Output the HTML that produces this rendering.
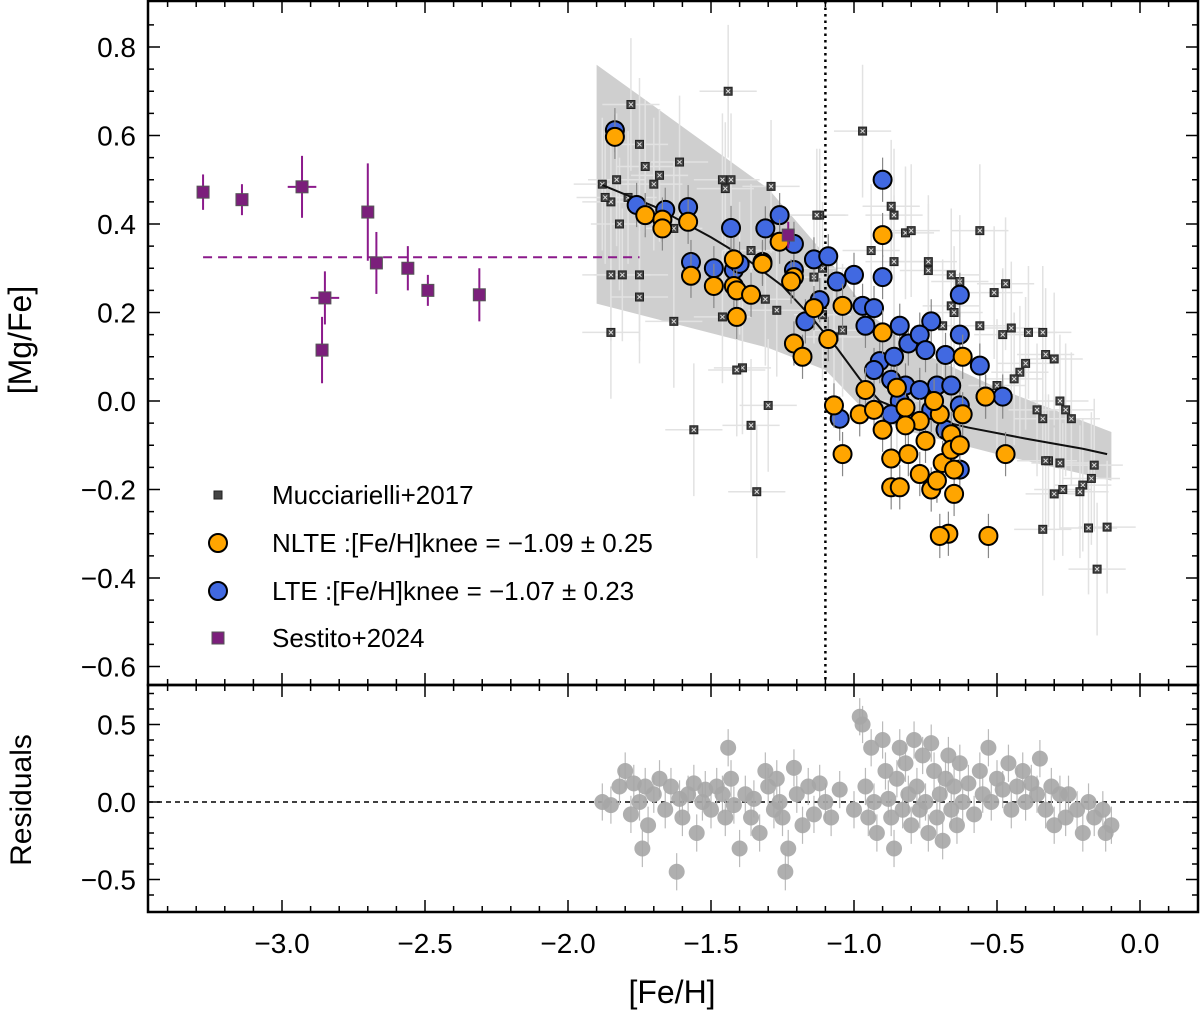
<!DOCTYPE html>
<html><head><meta charset="utf-8"><style>
body{margin:0;background:#fff;}
svg text{font-family:"Liberation Sans",sans-serif;fill:#000;}
</style></head><body>
<svg id="c" width="1200" height="1013" xmlns="http://www.w3.org/2000/svg"></svg>
<script>
const mucX=[-1.78,-1.75,-1.44,-0.97,-1.83,-1.88,-1.85,-1.79,-1.73,-1.61,-1.68,-1.70,-1.46,-1.43,-1.45,-1.29,-1.12,-1.13,-1.63,-1.82,-1.85,-1.81,-1.75,-1.63,-1.85,-1.46,-1.40,-1.36,-1.27,-1.31,-1.39,-1.30,-1.56,-1.36,-1.41,-1.14,-1.11,-1.11,-1.04,-0.94,-0.87,-0.86,-0.82,-0.80,-0.56,-0.86,-0.74,-0.74,-0.66,-0.63,-0.66,-0.65,-0.69,-0.51,-0.47,-0.48,-0.45,-0.34,-0.39,-0.56,-0.40,-0.42,-0.44,-0.50,-0.33,-0.30,-0.28,-0.26,-0.24,-0.34,-0.36,-0.32,-0.33,-0.28,-0.16,-0.17,-0.30,-0.27,-0.20,-0.21,-0.34,-0.18,-0.115,-0.15,-0.85,-1.07,-1.34,-1.75,-1.87];
const mucY=[0.67,0.58,0.70,0.61,0.50,0.49,0.45,0.46,0.53,0.54,0.51,0.49,0.50,0.50,0.48,0.485,0.42,0.42,0.39,0.40,0.285,0.285,0.285,0.18,0.155,0.19,0.30,0.34,0.205,0.23,0.075,-0.01,-0.065,-0.055,0.07,0.28,0.30,0.195,0.16,0.34,0.44,0.42,0.38,0.385,0.385,0.315,0.315,0.295,0.285,0.27,0.215,0.20,0.17,0.245,0.265,0.15,0.165,0.155,0.155,0.17,0.085,0.065,0.05,0.035,0.105,0.095,0.0,-0.02,-0.04,-0.04,-0.02,-0.135,-0.135,-0.14,-0.145,-0.175,-0.21,-0.20,-0.19,-0.205,-0.29,-0.287,-0.285,-0.38,0.0,0.145,-0.205,0.235,0.46];
const lteX=[-1.836,-1.76,-1.66,-1.58,-1.43,-1.31,-1.57,-1.49,-1.42,-1.40,-1.32,-1.21,-1.21,-1.14,-1.09,-1.06,-1.0,-0.90,-0.90,-0.97,-0.93,-0.84,-0.91,-0.86,-0.81,-0.63,-0.63,-0.56,-0.54,-0.48,-0.63,-0.73,-0.77,-0.75,-0.68,-0.71,-0.82,-0.87,-0.93,-0.84,-0.77,-0.66,-0.63,-0.87,-0.73,-0.68,-1.05,-1.17,-1.12,-0.96,-1.26];
const lteY=[0.612,0.443,0.432,0.438,0.391,0.39,0.314,0.30,0.296,0.31,0.314,0.355,0.296,0.32,0.327,0.27,0.285,0.50,0.28,0.215,0.21,0.17,0.09,0.10,0.13,0.24,0.15,0.08,0.01,0.01,-0.155,0.18,0.15,0.115,0.104,0.035,0.035,0.048,0.07,0.0,0.025,0.035,-0.01,-0.03,-0.02,-0.065,-0.04,0.18,0.228,0.17,0.42];
const nlteX=[-1.836,-1.73,-1.67,-1.67,-1.58,-1.57,-1.49,-1.42,-1.41,-1.36,-1.41,-1.42,-1.32,-1.26,-1.21,-1.22,-1.21,-1.18,-1.14,-1.09,-1.04,-1.07,-0.90,-0.90,-0.96,-1.04,-0.98,-0.93,-0.90,-0.87,-0.81,-0.87,-0.84,-0.77,-0.73,-0.71,-0.69,-0.65,-0.65,-0.67,-0.70,-0.53,-0.62,-0.62,-0.54,-0.47,-0.82,-0.77,-0.70,-0.66,-0.75,-0.82,-0.85,-0.72,-0.66,-0.63];
const nlteY=[0.597,0.42,0.41,0.39,0.405,0.283,0.26,0.26,0.25,0.24,0.19,0.32,0.31,0.36,0.28,0.27,0.13,0.10,0.21,0.14,0.215,-0.01,0.375,0.155,0.025,-0.12,-0.03,-0.02,-0.065,-0.13,-0.12,-0.195,-0.195,-0.165,-0.2,-0.18,-0.14,-0.155,-0.21,-0.30,-0.305,-0.305,0.10,-0.03,0.01,-0.12,-0.015,-0.045,-0.03,-0.075,-0.09,-0.055,0.03,0.0,-0.11,-0.10];
const sesX=[-3.276,-3.14,-2.93,-2.85,-2.86,-2.70,-2.67,-2.56,-2.49,-2.31,-1.23];
const sesY=[0.472,0.455,0.484,0.233,0.115,0.427,0.312,0.30,0.25,0.24,0.375];
const sesErrY=[0.04,0.035,0.07,0.06,0.075,0.11,0.07,0.05,0.035,0.06,0.03];
const sesErrX=[0.02,0.02,0.05,0.05,0.02,0.02,0.02,0.02,0.02,0.02,0.02];
const sesMean=0.325;
const fitX=[-1.88,-1.7,-1.5,-1.38,-1.25,-1.15,-1.06,-0.98,-0.91,-0.8,-0.6,-0.4,-0.2,-0.115];
const fitY=[0.488,0.44,0.37,0.323,0.26,0.19,0.12,0.05,0.0,-0.03,-0.06,-0.085,-0.108,-0.12];
const bandX=[-1.9,-1.6,-1.3,-1.1,-0.95,-0.8,-0.5,-0.1];
const bandHi=[0.76,0.62,0.48,0.33,0.2,0.12,0.03,-0.07];
const bandLo=[0.22,0.17,0.12,0.07,-0.03,-0.07,-0.12,-0.18];
const knee=-1.1;
const resX=[-1.88,-1.85,-1.82,-1.8,-1.78,-1.77,-1.75,-1.74,-1.73,-1.72,-1.7,-1.68,-1.66,-1.64,-1.62,-1.61,-1.6,-1.58,-1.56,-1.55,-1.53,-1.52,-1.5,-1.48,-1.46,-1.45,-1.44,-1.43,-1.42,-1.4,-1.38,-1.36,-1.35,-1.33,-1.31,-1.3,-1.28,-1.27,-1.26,-1.25,-1.24,-1.23,-1.21,-1.2,-1.18,-1.16,-1.14,-1.12,-1.1,-1.08,-1.05,-1.0,-0.98,-0.97,-0.96,-0.95,-0.94,-0.93,-0.92,-0.9,-0.89,-0.88,-0.87,-0.86,-0.85,-0.84,-0.83,-0.82,-0.81,-0.8,-0.79,-0.78,-0.77,-0.76,-0.75,-0.74,-0.73,-0.72,-0.71,-0.7,-0.69,-0.68,-0.67,-0.66,-0.65,-0.64,-0.63,-0.62,-0.6,-0.58,-0.56,-0.55,-0.53,-0.52,-0.5,-0.48,-0.46,-0.45,-0.43,-0.41,-0.4,-0.38,-0.36,-0.35,-0.33,-0.31,-0.3,-0.28,-0.26,-0.25,-0.22,-0.2,-0.18,-0.16,-0.13,-0.12,-0.1];
const resY=[0.0,-0.02,0.1,0.2,-0.08,0.12,0.0,-0.3,0.1,-0.15,0.05,0.15,-0.05,0.1,-0.45,0.02,-0.1,0.05,0.12,-0.2,0.0,0.08,-0.05,0.1,0.05,-0.1,0.35,0.15,-0.02,-0.3,0.05,-0.1,0.02,-0.2,0.2,0.1,-0.05,0.15,0.0,-0.1,-0.45,-0.3,0.22,0.05,-0.15,0.1,-0.08,0.12,0.0,-0.1,0.08,-0.05,0.55,0.5,0.1,-0.1,0.35,0.0,-0.2,0.4,0.2,0.02,-0.1,-0.3,0.15,0.35,-0.05,0.25,0.05,-0.15,0.4,0.1,-0.05,0.3,0.0,-0.2,0.38,0.2,-0.1,0.05,-0.25,0.15,0.3,-0.05,0.1,-0.15,0.25,0.0,0.12,-0.08,0.2,0.05,0.35,0.0,0.15,0.08,0.25,-0.05,0.1,0.2,0.0,0.12,0.05,0.28,-0.05,0.1,-0.15,0.05,-0.1,0.05,-0.05,-0.2,0.0,-0.1,-0.05,-0.2,-0.15];
const xTicks=[-3.0,-2.5,-2.0,-1.5,-1.0,-0.5,0.0];
const xTickLabels=["\u22123.0","\u22122.5","\u22122.0","\u22121.5","\u22121.0","\u22120.5","0.0"];
const yTicks=[0.8,0.6,0.4,0.2,0.0,-0.2,-0.4,-0.6];
const yTickLabels=["0.8","0.6","0.4","0.2","0.0","\u22120.2","\u22120.4","\u22120.6"];
const rTicks=[0.5,0.0,-0.5];
const rTickLabels=["0.5","0.0","\u22120.5"];

const NS="http://www.w3.org/2000/svg";
const svg=document.getElementById('c');
const L=148,R=1198,T=1,B=685,B2=912;
const X=v=>282+(v+3)*286;
const Y=v=>47+(0.8-v)*442.5;
const RY=v=>802-v*155;
function mk(tag,attrs,parent){const e=document.createElementNS(NS,tag);for(const k in attrs)e.setAttribute(k,attrs[k]);(parent||svg).appendChild(e);return e;}

// band
let pts=bandX.map((x,i)=>X(x)+','+Y(bandHi[i])).concat(bandX.slice().reverse().map((x,i)=>X(x)+','+Y(bandLo[bandX.length-1-i])));
const band=mk('polygon',{points:pts.join(' '),fill:'#cfcfcf'});



// muc error bars + markers
const gM=mk('g',{});


mucX.forEach((x,i)=>{
  mk('line',{x1:X(x-0.1),x2:X(x+0.1),y1:Y(mucY[i]),y2:Y(mucY[i]),stroke:'#e2e2e2','stroke-width':1.5},gM);
  mk('line',{x1:X(x),x2:X(x),y1:Y(mucY[i]+0.15),y2:Y(mucY[i]-0.15),stroke:'#e2e2e2','stroke-width':1.5},gM);
});
mucX.forEach((x,i)=>{
  const cx=X(x),cy=Y(mucY[i]);
  const r=mk('rect',{x:cx-4,y:cy-4,width:8,height:8,fill:'#444',stroke:'#222','stroke-width':1},gM);
  
  
  mk('path',{d:`M${cx-2},${cy-2}L${cx+2},${cy+2}M${cx+2},${cy-2}L${cx-2},${cy+2}`,stroke:'#ddd','stroke-width':1},gM);
});

// fit line
const fit=mk('polyline',{points:fitX.map((x,i)=>X(x)+','+Y(fitY[i])).join(' '),fill:'none',stroke:'#111','stroke-width':2});



// knee line
const kl=mk('line',{x1:X(knee),x2:X(knee),y1:T,y2:B,stroke:'#000','stroke-width':2.5,'stroke-dasharray':'2.5,4'});



// circles
function circles(xs,ys,fill,name){
  const g=mk('g',{});
  
  
  xs.forEach((x,i)=>{mk('line',{x1:X(x),x2:X(x),y1:Y(ys[i]+0.05),y2:Y(ys[i]-0.05),stroke:'#888','stroke-width':1.2},g);});
  xs.forEach((x,i)=>{
    const c=mk('circle',{cx:X(x),cy:Y(ys[i]),r:9,fill:fill,stroke:'#000','stroke-width':2},g);
    
    
  });
}
circles(lteX,lteY,'#4169e1','lte');
circles(nlteX,nlteY,'#ffa500','nlte');

// sestito
const gS=mk('g',{});


const sm=mk('line',{x1:X(sesX[0]),x2:X(-1.75),y1:Y(sesMean),y2:Y(sesMean),stroke:'#8b1a8b','stroke-width':2,'stroke-dasharray':'9,6'},gS);


sesX.forEach((x,i)=>{
  mk('line',{x1:X(x),x2:X(x),y1:Y(sesY[i]+sesErrY[i]),y2:Y(sesY[i]-sesErrY[i]),stroke:'#8b1a8b','stroke-width':2},gS);
  mk('line',{x1:X(x-sesErrX[i]),x2:X(x+sesErrX[i]),y1:Y(sesY[i]),y2:Y(sesY[i]),stroke:'#8b1a8b','stroke-width':2},gS);
  const r=mk('rect',{x:X(x)-6,y:Y(sesY[i])-6,width:12,height:12,fill:'#7b1f7b',stroke:'#555','stroke-width':1},gS);
  
  
});

// residuals
const gR=mk('g',{});


const z=mk('line',{x1:L,x2:R,y1:RY(0),y2:RY(0),stroke:'#000','stroke-width':1.5,'stroke-dasharray':'5,4'},gR);


resX.forEach((x,i)=>{mk('line',{x1:X(x),x2:X(x),y1:RY(resY[i]+0.12),y2:RY(resY[i]-0.12),stroke:'#bbb','stroke-width':1.2},gR);});
resX.forEach((x,i)=>{
  const c=mk('circle',{cx:X(x),cy:RY(resY[i]),r:8,fill:'#a6a6a6','fill-opacity':0.9},gR);
  
  
});

// frames
const f1=mk('rect',{x:L,y:T,width:R-L,height:B-T,fill:'none',stroke:'#000','stroke-width':2.5});


const f2=mk('rect',{x:L,y:B,width:R-L,height:B2-B,fill:'none',stroke:'#000','stroke-width':2.5});



// ticks
const gT=mk('g',{stroke:'#000','stroke-width':1.5});


for(let k=-34;k<=2;k++){const v=k/10,px=X(v);if(px<L+2||px>R-2)continue;const maj=Math.abs(v*2-Math.round(v*2))<1e-6;const len=maj?12:6;
  [[T,1],[B,-1],[B,1],[B2,-1]].forEach(([y0,d])=>mk('line',{x1:px,x2:px,y1:y0,y2:y0+d*len},gT));}
for(let k=-12;k<=17;k++){const v=k*0.05,py=Y(v);if(py<T+2||py>B-2)continue;const maj=Math.abs(v*5-Math.round(v*5))<1e-6;const len=maj?12:6;
  mk('line',{x1:L,x2:L+len,y1:py,y2:py},gT);mk('line',{x1:R,x2:R-len,y1:py,y2:py},gT);}
for(let k=-7;k<=7;k++){const v=k/10,py=RY(v);if(py<B+2||py>B2-2)continue;const maj=(k%5===0);const len=maj?12:6;
  mk('line',{x1:L,x2:L+len,y1:py,y2:py},gT);mk('line',{x1:R,x2:R-len,y1:py,y2:py},gT);}

// tick labels
xTicks.forEach((v,i)=>{const t=mk('text',{x:X(v),y:953,'font-size':28,'text-anchor':'middle'});t.textContent=xTickLabels[i];
  });
yTicks.forEach((v,i)=>{const t=mk('text',{x:136,y:Y(v)+10,'font-size':28,'text-anchor':'end'});t.textContent=yTickLabels[i];
  });
rTicks.forEach((v,i)=>{const t=mk('text',{x:136,y:RY(v)+10,'font-size':28,'text-anchor':'end'});t.textContent=rTickLabels[i];
  });

// axis titles
let t=mk('text',{x:672,y:1003,'font-size':32,'text-anchor':'middle'});t.textContent='[Fe/H]';

t=mk('text',{x:0,y:0,'font-size':32,'text-anchor':'middle',transform:'translate(31,340) rotate(-90)'});t.textContent='[Mg/Fe]';

t=mk('text',{x:0,y:0,'font-size':30,'text-anchor':'middle',transform:'translate(31,800) rotate(-90)'});t.textContent='Residuals';


// legend
const gL=mk('g',{});


const lx=218,ltx=272;
let r=mk('rect',{x:lx-4,y:491,width:8,height:8,fill:'#444',stroke:'#222'},gL);

let c=mk('circle',{cx:lx,cy:543,r:9,fill:'#ffa500',stroke:'#000','stroke-width':2},gL);

c=mk('circle',{cx:lx,cy:591,r:9,fill:'#4169e1',stroke:'#000','stroke-width':2},gL);

r=mk('rect',{x:lx-6,y:632,width:12,height:12,fill:'#7b1f7b',stroke:'#555'},gL);

[['Mucciarielli+2017',504],['NLTE :[Fe/H]knee = \u22121.09 \u00b1 0.25',552],['LTE :[Fe/H]knee = \u22121.07 \u00b1 0.23',600],['Sestito+2024',647]].forEach(([s,y])=>{
  const tt=mk('text',{x:ltx,y:y,'font-size':26},gL);tt.textContent=s;
  });
</script>
</body></html>
